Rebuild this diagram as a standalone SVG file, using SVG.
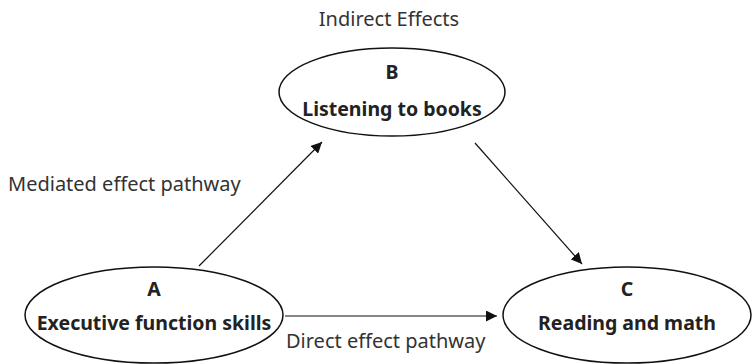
<svg xmlns="http://www.w3.org/2000/svg" width="752" height="364" viewBox="0 0 752 364">
<defs>
<style>
.node ellipse{fill:#fff;stroke:#111;stroke-width:1.5}
.t{font-family:"Noto Sans","Open Sans",sans-serif;fill:#222;text-anchor:middle}
.b{font-weight:bold;font-size:19.5px}
.r{font-size:20px;fill:#333}
.edge{stroke:#111;stroke-width:1.2;fill:none;marker-end:url(#ah)}
</style>
<marker id="ah" viewBox="0 0 10 10" refX="10" refY="5" markerWidth="11" markerHeight="11" markerUnits="userSpaceOnUse" orient="auto">
<path d="M0,0 L10,5 L0,10 z" fill="#111"/>
</marker>
</defs>
<rect width="752" height="364" fill="#fff"/>
<text class="t r" x="389" y="26">Indirect Effects</text>
<text class="t r" x="8" y="191" style="text-anchor:start">Mediated effect pathway</text>
<text class="t r" x="286" y="348" style="text-anchor:start">Direct effect pathway</text>
<g id="connectors">
<line class="edge" x1="199" y1="266" x2="322" y2="142"/>
<line class="edge" x1="475" y1="143" x2="582" y2="264"/>
<line class="edge" x1="285" y1="316" x2="497" y2="316"/>
</g>
<g id="nodeB" class="node">
<ellipse cx="392" cy="92" rx="113" ry="44"/>
<text class="t b" x="392" y="79">B</text>
<text class="t b" x="392" y="116">Listening to books</text>
</g>
<g id="nodeA" class="node">
<ellipse cx="154" cy="315" rx="129" ry="48"/>
<text class="t b" x="154" y="296">A</text>
<text class="t b" x="154" y="330">Executive function skills</text>
</g>
<g id="nodeC" class="node">
<ellipse cx="627" cy="315" rx="124" ry="48"/>
<text class="t b" x="627" y="296">C</text>
<text class="t b" x="627" y="330">Reading and math</text>
</g>
</svg>
